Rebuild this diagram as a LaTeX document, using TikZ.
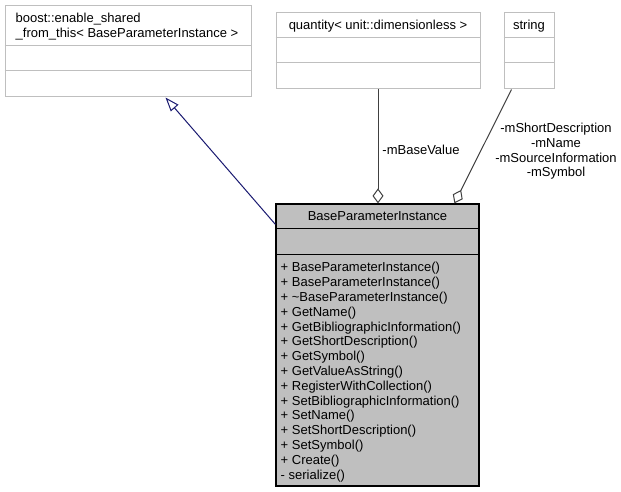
\documentclass[tikz,border=0pt]{standalone}
\usepackage{fontspec}
\setmainfont{Liberation Sans}
\usetikzlibrary{arrows.meta,calc}
\definecolor{boxedge}{HTML}{BFBFBF}
\definecolor{basefill}{HTML}{BFBFBF}
\definecolor{inheritblue}{HTML}{191970}
\definecolor{usegrey}{HTML}{404040}
\begin{document}
\begin{tikzpicture}[x=1pt,y=-1pt,
  lbl/.style={font=\fontsize{13}{14.8}\selectfont, inner sep=0pt, text=black},
  classbox/.style={draw=boxedge, line width=1pt, inner sep=0pt},
  mainbox/.style={draw=black, fill=basefill, line width=1.2pt, inner sep=0pt},
  boxrule/.style={draw=boxedge, line width=1pt},
  mainrule/.style={draw=black, line width=1.2pt},
  inherit/.style={draw=inheritblue, line width=1pt, -{Triangle[open, length=14pt, width=10pt]}},
  member/.style={draw=usegrey, line width=1pt, -{Diamond[open, length=15pt, width=11pt]}},
]
\useasboundingbox (0,0) rectangle (621,492);

% base class
\node[classbox, minimum width=246pt, minimum height=91pt] (boost) at (128,51.5) {};
\draw[boxrule] ($(boost.north west)+(0,40)$) -- ($(boost.north east)+(0,40)$);
\draw[boxrule] ($(boost.north west)+(0,65)$) -- ($(boost.north east)+(0,65)$);
\node[lbl, anchor=base west] (boostline1) at (15.5,22.6) {boost::enable\_shared};
\node[lbl, anchor=base west] (boostline2) at (15.5,37.6) {\_from\_this< BaseParameterInstance >};

% member type: quantity
\node[classbox, minimum width=204pt, minimum height=76pt] (qty) at (378,51) {};
\draw[boxrule] ($(qty.north west)+(0,25)$) -- ($(qty.north east)+(0,25)$);
\draw[boxrule] ($(qty.north west)+(0,50)$) -- ($(qty.north east)+(0,50)$);
\node[lbl, anchor=base] (qtyname) at (378,29.6) {quantity< unit::dimensionless >};

% member type: string
\node[classbox, minimum width=50pt, minimum height=76pt] (str) at (529,51) {};
\draw[boxrule] ($(str.north west)+(0,25)$) -- ($(str.north east)+(0,25)$);
\draw[boxrule] ($(str.north west)+(0,50)$) -- ($(str.north east)+(0,50)$);
\node[lbl, anchor=base] (strname) at (529,29.6) {string};

% the class itself
\node[mainbox, minimum width=203pt, minimum height=282pt] (base) at (377.5,345) {};
\draw[mainrule] ($(base.north west)+(0,25)$) -- ($(base.north east)+(0,25)$);
\draw[mainrule] ($(base.north west)+(0,51)$) -- ($(base.north east)+(0,51)$);
\node[lbl, anchor=base] (basename) at (377.5,220.7) {BaseParameterInstance};
\node[lbl, anchor=north west, align=left] (basemethods) at (280.5,262.3) {%
+ BaseParameterInstance()\\
+ BaseParameterInstance()\\
+ \textasciitilde BaseParameterInstance()\\
+ GetName()\\
+ GetBibliographicInformation()\\
+ GetShortDescription()\\
+ GetSymbol()\\
+ GetValueAsString()\\
+ RegisterWithCollection()\\
+ SetBibliographicInformation()\\
+ SetName()\\
+ SetShortDescription()\\
+ SetSymbol()\\
+ Create()\\
- serialize()};

% relations
\draw[inherit] ($(base.north west)+(0,21)$) -- ($(boost.south west)+(161,0)$);
\draw[member] (qty.south) -- (qty.south |- base.north);
\draw[member] ($(str.south west)+(8,0)$) -- ($(base.north west)+(179,0)$);

\node[lbl, anchor=base] (basevaluelabel) at (421,154.6) {-mBaseValue};
\node[lbl, anchor=north, align=center] (stringlabels) at (556,122.8) {-mShortDescription\\-mName\\-mSourceInformation\\-mSymbol};
\end{tikzpicture}
\end{document}
